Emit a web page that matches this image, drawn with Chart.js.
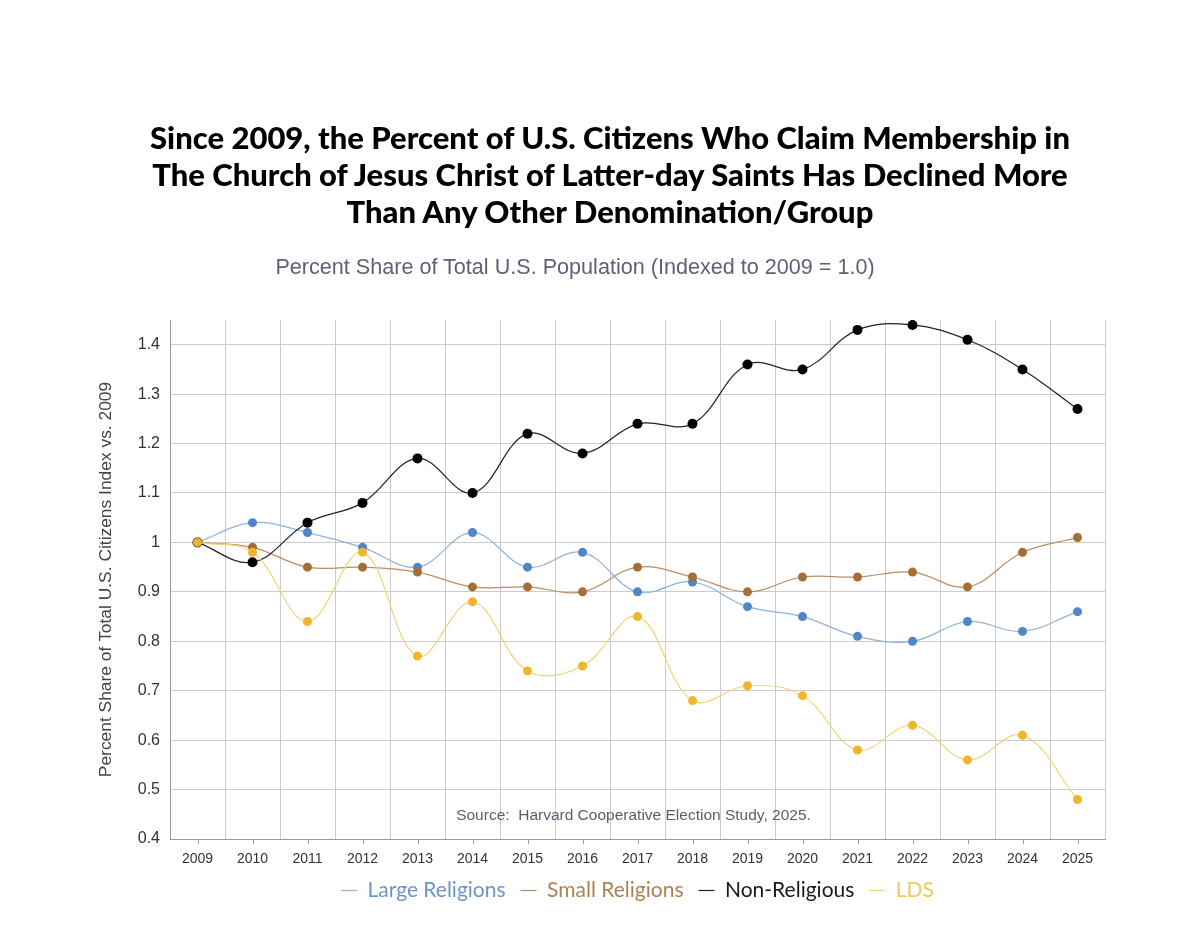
<!DOCTYPE html>
<html>
<head>
<meta charset="utf-8">
<script src="https://cdn.jsdelivr.net/npm/chart.js@4"></script>
<style>
  body { margin: 0; background: #fff; }
  #wrap { position: relative; width: 1200px; height: 948px; }
  #title {
    position: absolute; top: 119px; left: 20px; width: 1180px;
    text-align: center; font-family: "Lato", sans-serif; font-weight: 900;
    font-size: 31px; line-height: 37px; color: #000;
  }
  #subtitle {
    position: absolute; top: 255px; left: 0; width: 1150px;
    text-align: center; font-family: "Liberation Sans", Arial, sans-serif;
    font-size: 21.6px; line-height: 24px; color: #5f6178;
  }
  canvas { position: absolute; top: 0; left: 0; }
</style>
</head>
<body>
<div id="wrap">
  <canvas id="chart" width="1200" height="948"></canvas>
  <div id="title">Since 2009, the Percent of U.S. Citizens Who Claim Membership in<br>The Church of Jesus Christ of Latter-day Saints Has Declined More<br>Than Any Other Denomination/Group</div>
  <div id="subtitle">Percent Share of Total U.S. Population (Indexed to 2009 = 1.0)</div>
</div>
<script>
// years on the x axis
const years = ["2009", "2010", "2011", "2012", "2013", "2014", "2015", "2016", "2017",
               "2018", "2019", "2020", "2021", "2022", "2023", "2024", "2025"];

// index values (2009 = 1.0)
const largeReligions = [1.00, 1.04, 1.02, 0.99, 0.95, 1.02, 0.95, 0.98, 0.90,
                        0.92, 0.87, 0.85, 0.81, 0.80, 0.84, 0.82, 0.86];
const smallReligions = [1.00, 0.99, 0.95, 0.95, 0.94, 0.91, 0.91, 0.90, 0.95,
                        0.93, 0.90, 0.93, 0.93, 0.94, 0.91, 0.98, 1.01];
const nonReligious   = [1.00, 0.96, 1.04, 1.08, 1.17, 1.10, 1.22, 1.18, 1.24,
                        1.24, 1.36, 1.35, 1.43, 1.44, 1.41, 1.35, 1.27];
const lds            = [1.00, 0.98, 0.84, 0.98, 0.77, 0.88, 0.74, 0.75, 0.85,
                        0.68, 0.71, 0.69, 0.58, 0.63, 0.56, 0.61, 0.48];

const yTicks = [0.4, 0.5, 0.6, 0.7, 0.8, 0.9, 1.0, 1.1, 1.2, 1.3, 1.4];

const sourceNote = "Source:  Harvard Cooperative Election Study, 2025.";

// series styles: line colour, point colour, legend text colour
const series = [
  { label: "Large Religions", data: largeReligions, line: "#8fb2dc", point: "#4f86c6", text: "#6b95c9", order: 3, r: 4.5 },
  { label: "Small Religions", data: smallReligions, line: "#b98e62", point: "#a56d38", text: "#ae8250", order: 2, r: 4.5 },
  { label: "Non-Religious",   data: nonReligious,   line: "#222222", point: "#000000", text: "#1a1a1a", order: 1, r: 5 },
  { label: "LDS",             data: lds,            line: "#f3d27a", point: "#f0b62b", text: "#f1c85a", order: 0, r: 4.5 }
];

// source note inside the plot + small tick marks under each year
const extras = {
  id: "extras",
  afterDraw(chart) {
    const { ctx, chartArea } = chart;
    const xs = chart.scales.x;
    ctx.save();
    ctx.strokeStyle = "#9a9a9a";
    ctx.lineWidth = 1;
    years.forEach((y, i) => {
      const px = Math.round(xs.getPixelForValue(i)) + 0.5;
      ctx.beginPath();
      ctx.moveTo(px, chartArea.bottom);
      ctx.lineTo(px, chartArea.bottom + 5);
      ctx.stroke();
    });
    ctx.fillStyle = "#5b5c74";
    ctx.font = "15.5px 'Liberation Sans', Arial, sans-serif";
    ctx.textAlign = "center";
    ctx.textBaseline = "middle";
    ctx.fillText(sourceNote, (chartArea.left + chartArea.right) / 2 - 4, chartArea.bottom - 23);
    ctx.restore();
  }
};

new Chart(document.getElementById("chart"), {
  type: "line",
  data: {
    labels: years,
    datasets: series.map(s => ({
      label:                s.label,
      data:                 s.data,
      borderColor:          s.line,
      backgroundColor:      s.point,
      borderWidth:          1.2,
      tension:              0.38,
      pointRadius:          s.r,
      pointBackgroundColor: s.point,
      pointBorderColor:     s.point,
      pointBorderWidth:     0,
      order:                s.order
    }))
  },
  options: {
    responsive: false,
    animation: false,
    layout: { padding: { top: 320, left: 94, right: 95, bottom: 37 } },
    scales: {
      x: {
        offset: true,
        afterFit: scale => { scale.height = 26; },
        grid: {
          offset: true,
          drawTicks: false,
          color: ctx => ctx.index === years.length ? "rgba(0,0,0,0)" : "#cbcbcb",
          lineWidth: 1
        },
        border: { color: "#9a9a9a" },
        ticks: {
          padding: 12,
          color: "#333",
          font: { family: "'Liberation Sans', Arial, sans-serif", size: 14 }
        }
      },
      y: {
        min: 0.4,
        max: 1.45,
        afterFit: scale => { scale.width = 76; },
        afterBuildTicks: scale => { scale.ticks = yTicks.map(v => ({ value: v })); },
        grid: { drawTicks: false, color: "#cbcbcb" },
        border: { color: "#9a9a9a" },
        ticks: {
          padding: 10,
          color: "#333",
          font: { family: "'Liberation Sans', Arial, sans-serif", size: 16 },
          callback: v => String(+v.toFixed(2))
        },
        title: {
          display: true,
          text: "Percent Share of Total U.S. Citizens Index vs. 2009",
          color: "#444",
          padding: { top: 2, bottom: 4 },
          font: { family: "'Liberation Sans', Arial, sans-serif", size: 17.4 }
        }
      }
    },
    plugins: {
      legend: {
        position: "bottom",
        fullSize: false,
        labels: {
          usePointStyle: true,
          pointStyle: "line",
          pointStyleWidth: 16,
          padding: 15,
          font: { family: "Lato", size: 21 },
          generateLabels: () => series.map((s, i) => ({
            text:        s.label,
            fontColor:   s.text,
            strokeStyle: s.line,
            fillStyle:   s.line,
            lineWidth:   1.2,
            pointStyle:  "line",
            datasetIndex: i,
            hidden:      false
          }))
        }
      },
      tooltip: { enabled: false }
    }
  },
  plugins: [extras]
});
</script>
</body>
</html>
